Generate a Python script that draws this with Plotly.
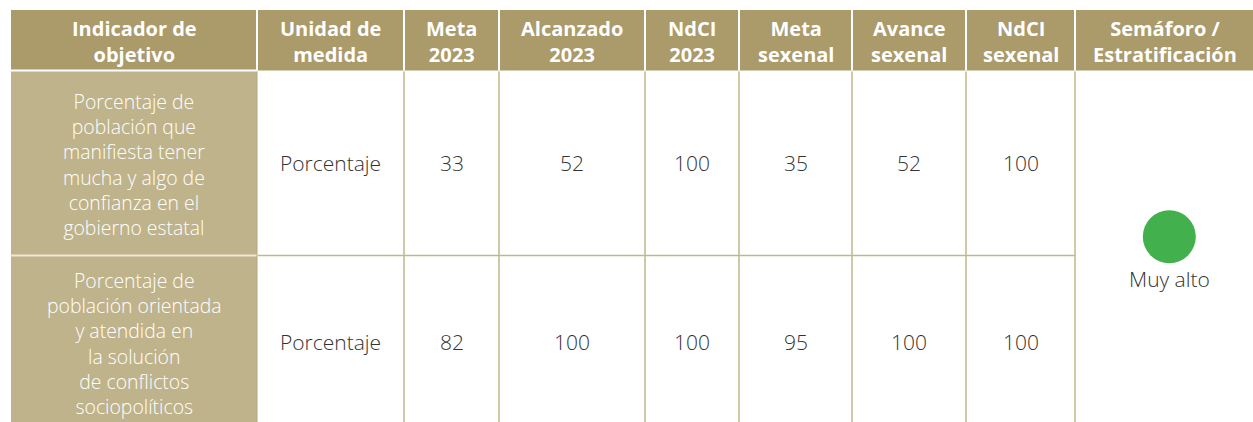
import plotly.graph_objects as go

headers = [["Indicador de", "objetivo"], ["Unidad de", "medida"], ["Meta", "2023"], ["Alcanzado", "2023"],
           ["NdCI", "2023"], ["Meta", "sexenal"], ["Avance", "sexenal"], ["NdCI", "sexenal"],
           ["Semáforo /", "Estratificación"]]
indicators = [["Porcentaje de", "población que", "manifiesta tener", "mucha y algo de",
               "confianza en el", "gobierno estatal"],
              ["Porcentaje de", "población orientada", "y atendida en", "la solución",
               "de conflictos", "sociopolíticos"]]
units = ["Porcentaje", "Porcentaje"]
meta_2023 = [33, 82]
alcanzado_2023 = [52, 100]
ndci_2023 = [100, 100]
meta_sexenal = [35, 95]
avance_sexenal = [52, 100]
ndci_sexenal = [100, 100]
semaforo = "Muy alto"

# layout geometry (pixels)
W, H = 1253, 422
col_edges = [11, 257, 404, 499, 645, 739, 852, 966, 1075, 1260]
y_top, y_head = 10, 70.5
y_rows = [70.5, 255.5, 440]
row_centers = [163, 342]

HEAD_BG = "#AB9A6A"
COL1_BG = "#BFB38B"
LINE = "#C2B68E"
TXT = "#333333"
FONT = "Open Sans"

fig = go.Figure()
shapes = []
ann = []

shapes.append(dict(type="rect", x0=col_edges[0], x1=col_edges[-1], y0=y_top, y1=y_head,
                   fillcolor=HEAD_BG, line_width=0, layer="below"))
for i in range(2):
    shapes.append(dict(type="rect", x0=col_edges[0], x1=col_edges[1], y0=y_rows[i], y1=y_rows[i + 1],
                       fillcolor=COL1_BG, line_width=0, layer="below"))
for x in col_edges[1:-1]:
    shapes.append(dict(type="line", x0=x, x1=x, y0=y_top, y1=y_head, line=dict(color="white", width=2)))
shapes.append(dict(type="line", x0=col_edges[0], x1=col_edges[1], y0=y_head, y1=y_head,
                   line=dict(color="white", width=2)))
shapes.append(dict(type="line", x0=col_edges[0], x1=col_edges[1], y0=y_rows[1], y1=y_rows[1],
                   line=dict(color="#EEE8D6", width=2)))
shapes.append(dict(type="line", x0=col_edges[1], x1=col_edges[1], y0=y_head + 1, y1=y_rows[-1],
                   line=dict(color="#B3A67C", width=1)))
for x in col_edges[2:-1]:
    shapes.append(dict(type="line", x0=x, x1=x, y0=y_head + 1, y1=y_rows[-1], line=dict(color=LINE, width=1.5)))
shapes.append(dict(type="line", x0=col_edges[1] + 1, x1=col_edges[-2], y0=y_rows[1], y1=y_rows[1],
                   line=dict(color=LINE, width=1.5)))

centers = [(col_edges[i] + col_edges[i + 1]) / 2 for i in range(len(col_edges) - 1)]
centers[-1] = (col_edges[-2] + W) / 2 + 1

for i, h in enumerate(headers):
    ann.append(dict(x=centers[i], y=41.5, text="<br>".join(h), showarrow=False,
                    font=dict(family=FONT, size=20, color="white", weight="bold")))

cols = [units, meta_2023, alcanzado_2023, ndci_2023, meta_sexenal, avance_sexenal, ndci_sexenal]
for r in range(2):
    yc = row_centers[r]
    ann.append(dict(x=centers[0], y=yc + 1, text="<br>".join(indicators[r]), showarrow=False,
                    font=dict(family=FONT, size=19.4, color="white", weight=300)))
    for j, c in enumerate(cols):
        ann.append(dict(x=centers[j + 1], y=yc, text=str(c[r]), showarrow=False,
                        font=dict(family=FONT, size=21, color=TXT, weight=300)))

fig.add_trace(go.Scatter(x=[1169.3], y=[236.7], mode="markers",
                         marker=dict(size=53, color="#43B04E", line_width=0),
                         hoverinfo="skip", showlegend=False))
ann.append(dict(x=1169.3, y=279, text=semaforo, showarrow=False,
                font=dict(family=FONT, size=21, color=TXT, weight=300)))

fig.update_layout(width=W, height=H, margin=dict(l=0, r=0, t=0, b=0),
                  paper_bgcolor="white", plot_bgcolor="white",
                  shapes=shapes, annotations=ann, showlegend=False,
                  xaxis=dict(range=[0, W], visible=False, fixedrange=True),
                  yaxis=dict(range=[H, 0], visible=False, fixedrange=True))
fig.write_html("out.html", config={"displayModeBar": False},
               post_script="document.body.style.margin='0';document.body.style.overflow='hidden';")
